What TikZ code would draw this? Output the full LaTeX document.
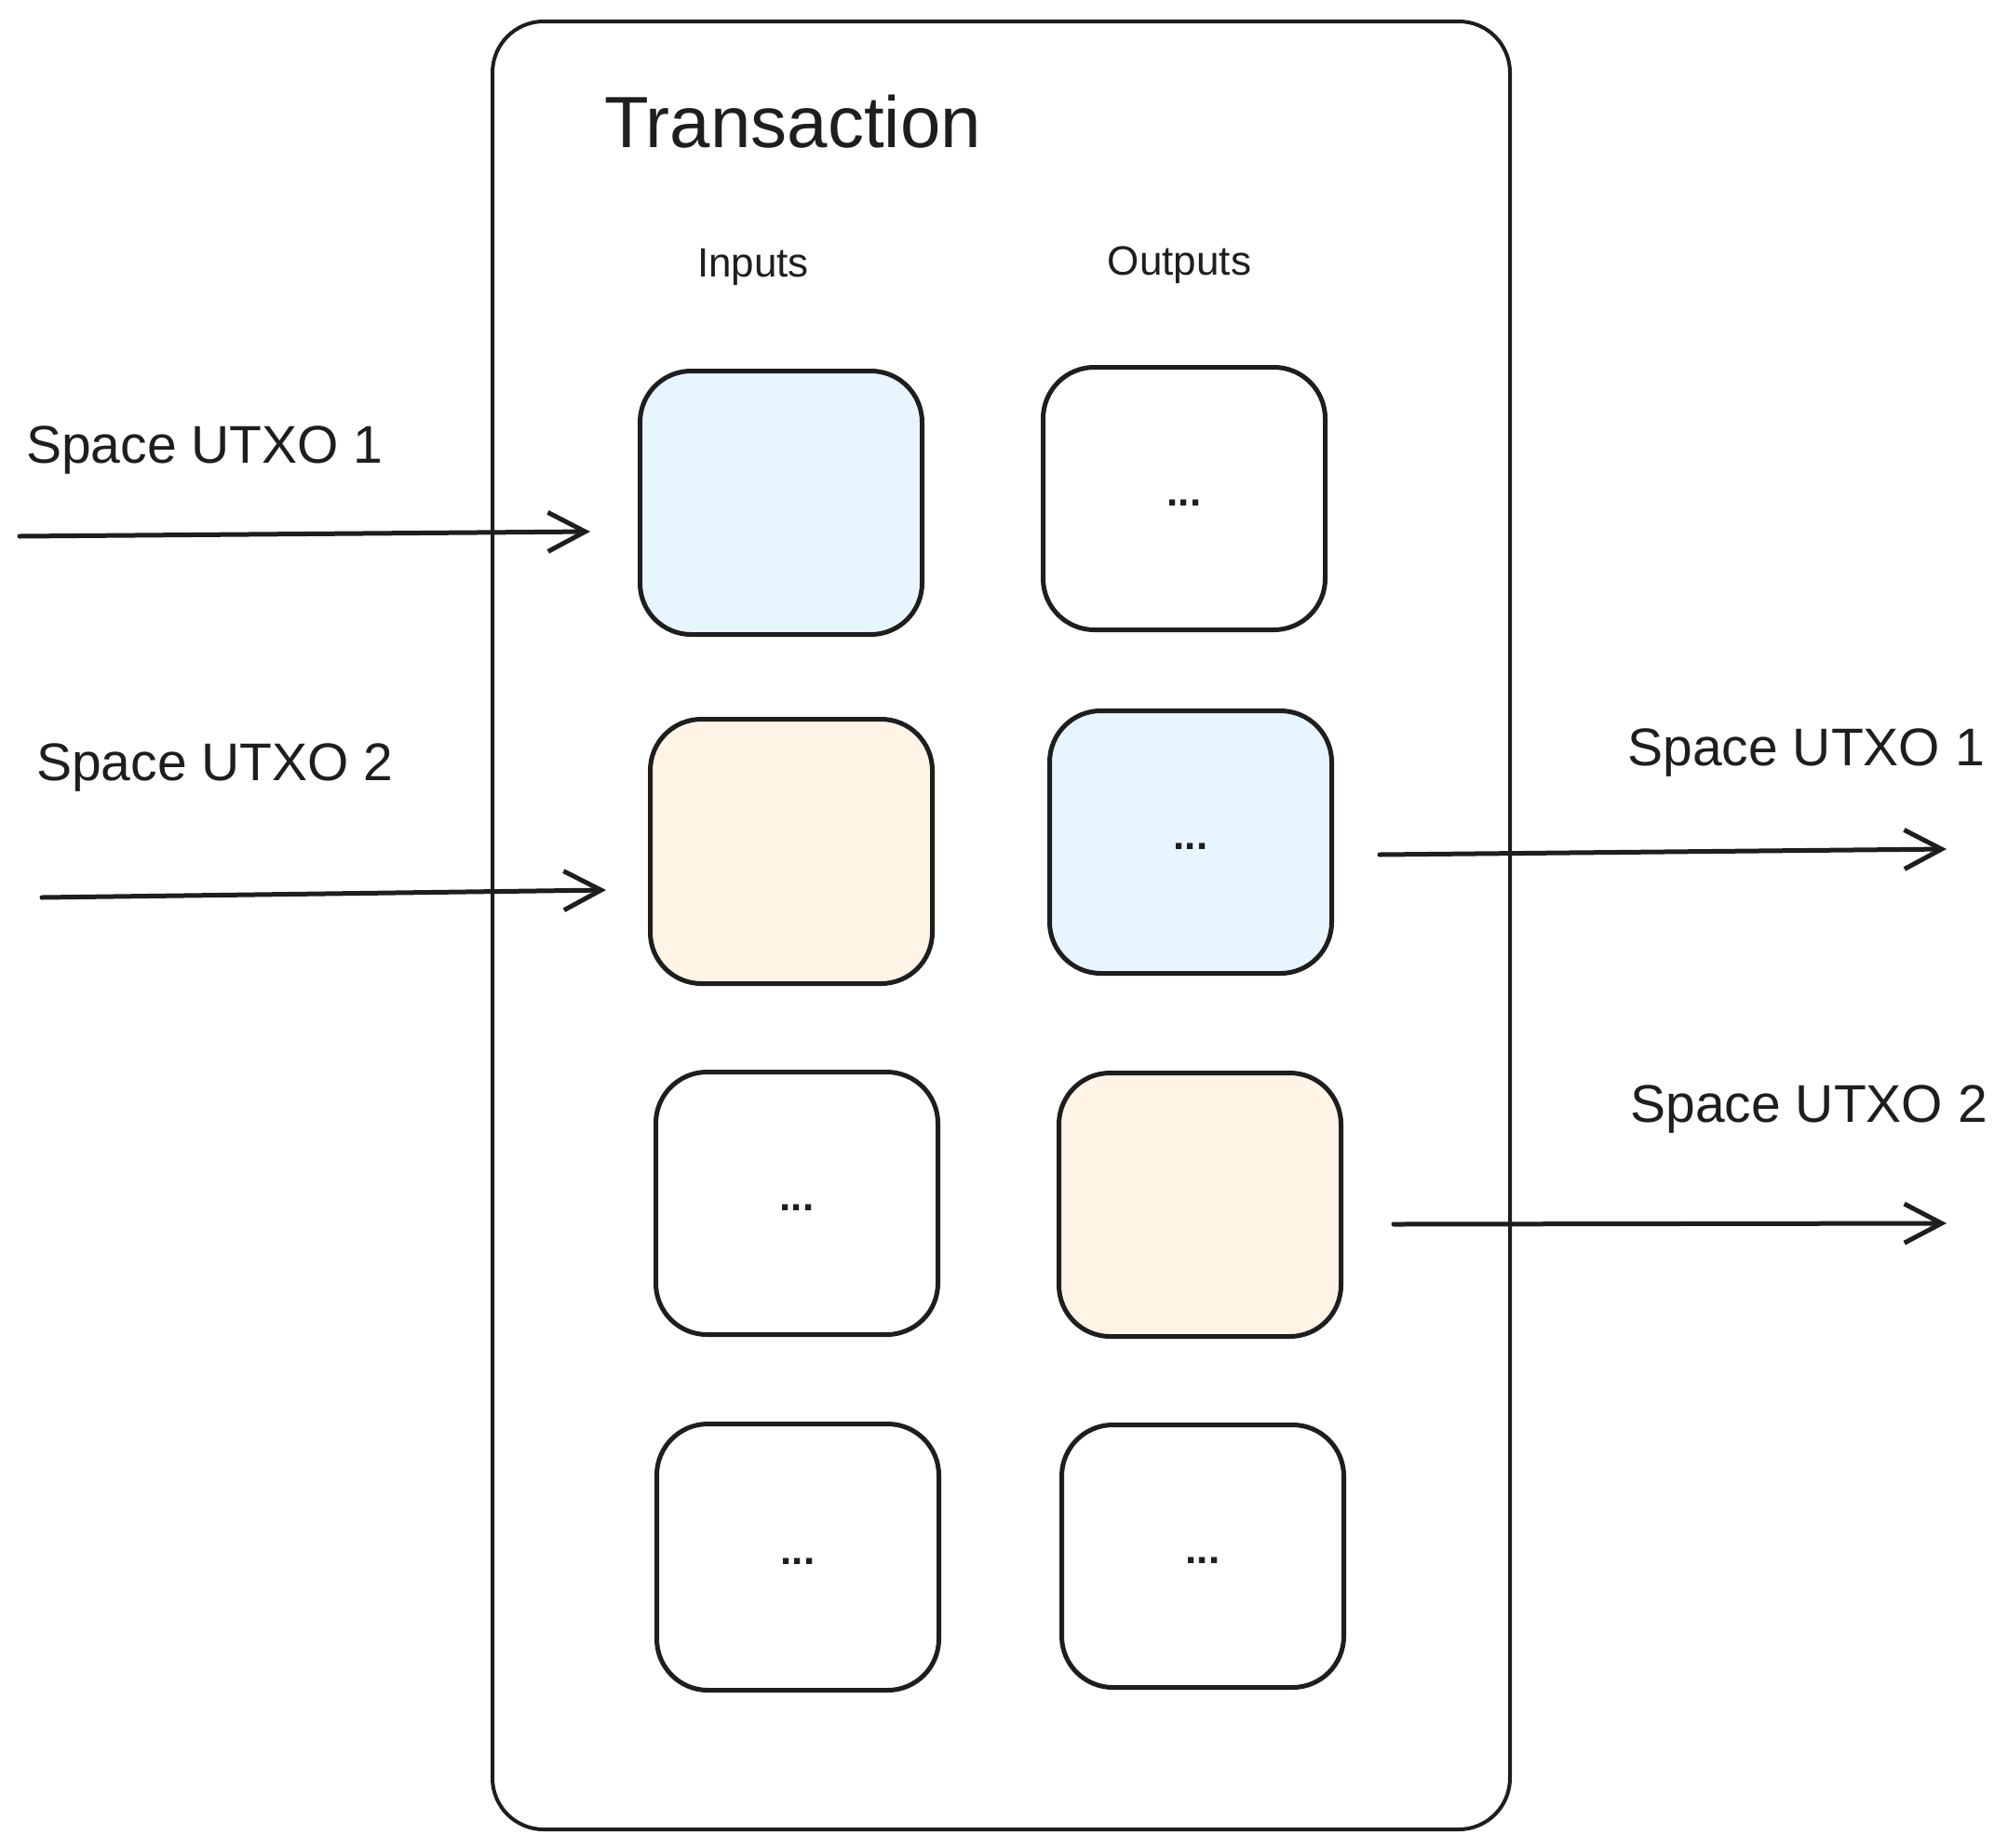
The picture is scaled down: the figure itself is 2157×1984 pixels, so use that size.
\documentclass[tikz,border=0pt]{standalone}
\usepackage{fontspec}
\setmainfont{Liberation Sans}
\usetikzlibrary{arrows.meta}
\definecolor{ink}{HTML}{1E1E1E}
\definecolor{lblue}{HTML}{E7F5FF}
\definecolor{lorange}{HTML}{FFF4E6}
\newcommand{\celldots}{\raisebox{-8pt}{...}}
\begin{document}
\begin{tikzpicture}[x=1pt,y=-1pt,
  cell/.style={draw=ink, line width=5pt, rounded corners=55pt, minimum width=303pt, minimum height=283pt, inner sep=0pt, text height=0pt, text depth=0pt, anchor=north west, font=\fontsize{44}{48}\selectfont\bfseries, text=ink},
  lbl/.style={font=\fontsize{57}{62}\selectfont, text=ink, inner sep=0pt},
  hdr/.style={font=\fontsize{44}{48}\selectfont, text=ink, inner sep=0pt},
  flow/.style={draw=ink, line width=5pt, line cap=round, -{Straight Barb[length=40pt,width=42pt]}}]
\useasboundingbox (0,0) rectangle (2157,1984);
\fill[white] (0,0) rectangle (2157,1984);
% container
\node[draw=ink, line width=4pt, rounded corners=55pt, minimum width=1093pt, minimum height=1942pt, anchor=north west, inner sep=0pt] (tx) at (527,21) {};
\node[font=\fontsize{78}{84}\selectfont, text=ink, inner sep=0pt, anchor=west] (title) at (649,131) {Transaction};
\node[hdr] (inputs) at (809,287) {Inputs};
\node[hdr] (outputs) at (1267,285) {Outputs};
% input cells
\node[cell, fill=lblue] (in1) at (685,396) {};
\node[cell, fill=lorange, minimum height=284pt] (in2) at (696,770) {};
\node[cell, fill=white, minimum height=282pt] (in3) at (702,1149) {\celldots};
\node[cell, fill=white, minimum height=286pt] (in4) at (703,1527) {\celldots};
% output cells
\node[cell, fill=white, minimum height=282pt] (out1) at (1118,392) {\celldots};
\node[cell, fill=lblue, minimum height=282pt] (out2) at (1125,761) {\celldots};
\node[cell, fill=lorange, minimum height=283pt] (out3) at (1135,1150) {};
\node[cell, fill=white, minimum height=282pt] (out4) at (1138,1528) {\celldots};
% labels
\node[lbl, anchor=west] (l1) at (28,484) {Space UTXO 1};
\node[lbl, anchor=west] (l2) at (39,825) {Space UTXO 2};
\node[lbl, anchor=east] (r1) at (2132,809) {Space UTXO 1};
\node[lbl, anchor=east] (r2) at (2135,1191) {Space UTXO 2};
% arrows
\coordinate (a1s) at (21,576);
\coordinate (a1e) at (634,571);
\coordinate (a2s) at (45,964);
\coordinate (a2e) at (651,956);
\coordinate (b1s) at (1482,918);
\coordinate (b1e) at (2091,912);
\coordinate (b2s) at (1497,1315);
\coordinate (b2e) at (2091,1314);
\draw[flow] (a1s) -- (a1e);
\draw[flow] (a2s) -- (a2e);
\draw[flow] (b1s) -- (b1e);
\draw[flow] (b2s) -- (b2e);
\end{tikzpicture}
\end{document}
